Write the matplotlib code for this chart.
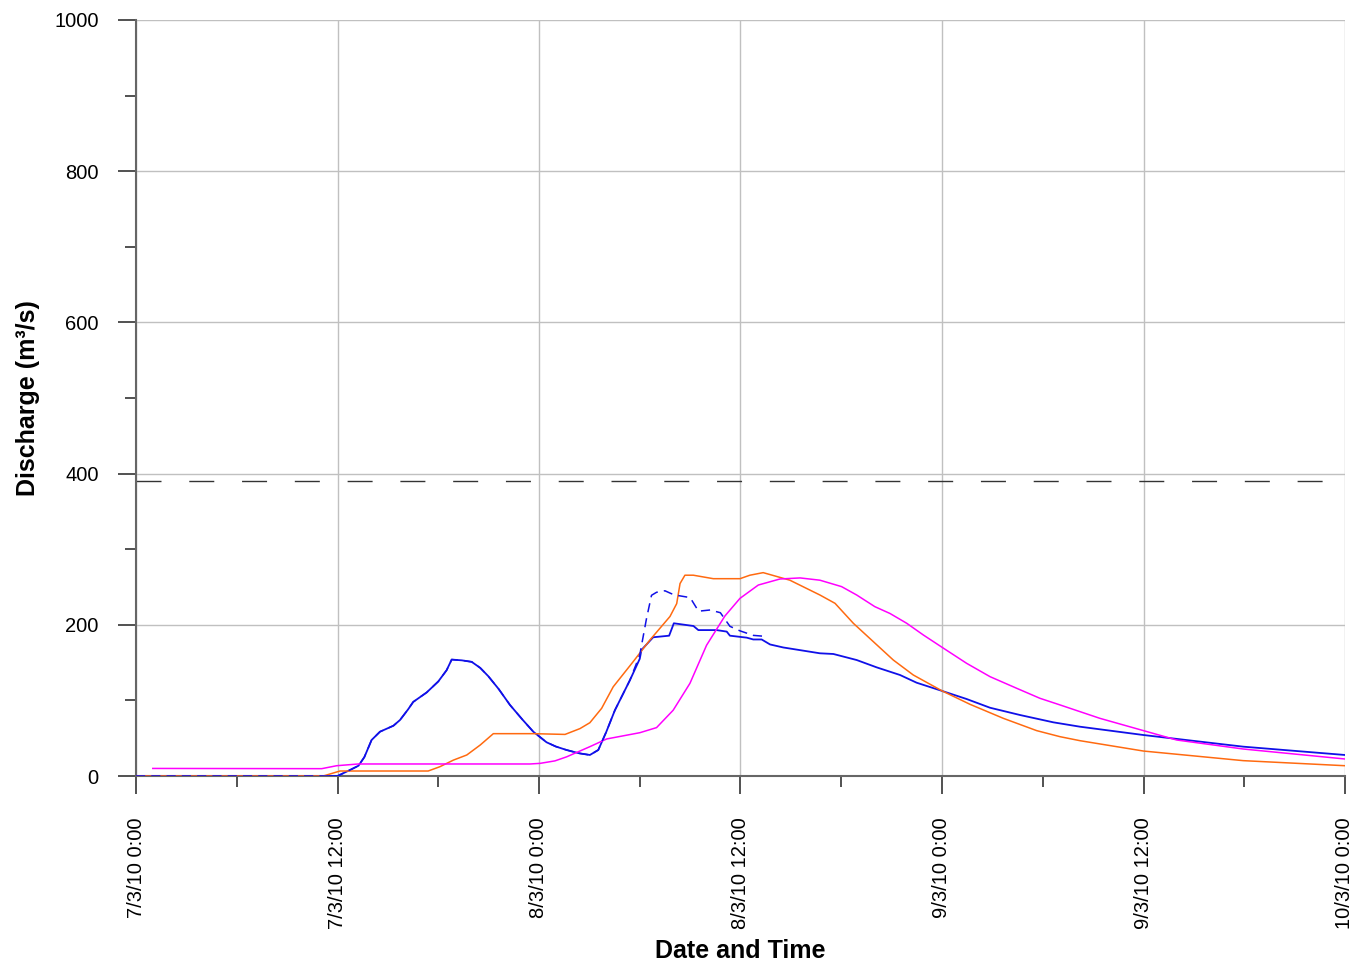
import matplotlib
matplotlib.use("Agg")
import matplotlib.pyplot as plt
import numpy as np

plt.rcParams['font.family'] = ['Liberation Sans', 'DejaVu Sans']

# ---- data (hours since 7/3/10 0:00) ----
blue_t = [0, 12.0, 12.75, 13.25, 13.6, 14.03, 14.53, 15.33, 15.72, 16.2, 16.51, 17.31, 18.0, 18.5,
          18.8, 19.4, 19.99, 20.5, 20.98, 21.6, 22.27, 23.0, 23.66, 24.45, 25.0, 25.64, 26.4,
          27.03, 27.53, 28.0, 28.52, 29.42, 30.0, 30.1, 30.8, 31.75, 32.03, 33.2, 33.49, 34.58,
          35.18, 35.37, 36.37, 36.76, 37.26, 37.76, 38.55, 40.73, 41.53, 42.92, 44.11, 45.5,
          46.49, 48.02, 49.47, 50.86, 52.64, 54.63, 56.22, 60.0, 65.94, 72]
blue_q = [0, 0, 8, 13.6, 25, 47.6, 58.6, 66.5, 74, 88, 98, 110.5, 125, 140,
          154, 153, 151, 143, 132, 115, 94, 75, 58.6, 44.6, 39, 34.4, 30,
          27.8, 34.4, 58, 87, 127, 155, 166.7, 183.5, 185.6, 202, 198.4, 193, 193,
          191, 185.6, 183, 180.6, 180.6, 174, 170, 162.3, 161.4, 153.4, 143.7, 133.6,
          123.4, 112.4, 101.8, 90.3, 80.7, 71, 65.2, 54.2, 38.8, 27.8]

dash_t = [0, 12.0, 12.75, 13.25, 13.6, 14.03, 14.53, 15.33, 15.72, 16.2, 16.51, 17.31, 18.0, 18.5,
          18.8, 19.4, 19.99, 20.5, 20.98, 21.6, 22.27, 23.0, 23.66, 24.45, 25.0, 25.64, 26.4,
          27.03, 27.53, 28.0, 28.52, 29.42, 30.0, 30.4, 30.7, 31.0, 31.5, 31.9, 32.2, 33.0,
          33.5, 34.19, 34.8, 35.37, 35.97, 36.76, 37.32]
dash_q = [0, 0, 8, 13.6, 25, 47.6, 58.6, 66.5, 74, 88, 98, 110.5, 125, 140,
          154, 153, 151, 143, 132, 115, 94, 75, 58.6, 44.6, 39, 34.4, 30,
          27.8, 34.4, 58, 87, 127, 160, 208, 239, 243, 245, 241, 239, 236,
          218, 219.6, 216, 198, 192, 186, 185]

orange_t = [0, 11.15, 12.15, 17.4, 18.1, 18.9, 19.7, 20.5, 21.28, 23.66, 25.55, 26.44, 27.03,
            27.73, 28.42, 29.6, 30.61, 31.8, 32.2, 32.4, 32.69, 33.19, 34.38, 35.97, 36.56,
            37.35, 38.94, 40.73, 41.63, 42.72, 43.91, 45.1, 46.29, 48.02, 49.67, 51.65, 53.64,
            55.03, 56.22, 60.0, 65.94, 72]
orange_q = [0, 0, 6.6, 6.6, 12.3, 21, 27.8, 41, 56, 56, 55, 62.7, 70.5,
            89.5, 118, 151, 180, 211, 228, 254.6, 265.6, 265.6, 261, 261, 265.6,
            269, 259, 239.4, 228.4, 202, 177.7, 153.4, 133.6, 112.4, 94.8, 76.3, 60,
            52, 46.7, 33, 20.3, 13.6]

magenta_t = [1.0, 11.06, 11.95, 13.24, 23.47, 24.06, 24.95, 25.64, 27.03, 28.03, 30.01, 31.0,
             31.99, 32.99, 33.98, 35.07, 35.97, 37.06, 38.35, 39.55, 40.73, 42.02, 42.92,
             44.0, 44.9, 45.9, 46.89, 48.02, 49.47, 50.86, 52.45, 53.83, 55.03, 57.4, 60.0,
             61.98, 65.94, 72]
magenta_q = [10, 9.7, 13.6, 15.9, 15.9, 16.7, 20, 25.3, 38.8, 49, 57.3, 64,
             87, 122.6, 173, 211.6, 235, 252.6, 260.6, 262, 259, 250.5, 239.4,
             224, 215, 202, 186.5, 170, 149, 131.4, 116, 102.8, 94, 76.3, 60,
             47.6, 35.7, 22.5]

threshold = 390

xtick_pos = [0, 12, 24, 36, 48, 60, 72]
xtick_labels = ['7/3/10 0:00', '7/3/10 12:00', '8/3/10 0:00', '8/3/10 12:00',
                '9/3/10 0:00', '9/3/10 12:00', '10/3/10 0:00']
ytick_pos = [0, 200, 400, 600, 800, 1000]

# ---- figure ----
W, H = 1350, 967
fig = plt.figure(figsize=(W / 100, H / 100), dpi=100)
ax = fig.add_axes([136 / W, 1 - 776 / H, 1209 / W, 756 / H])

ax.set_xlim(0, 72)
ax.set_ylim(0, 1000)

ax.plot(blue_t, blue_q, color='#1010e8', lw=1.3, zorder=3)
ax.plot(orange_t, orange_q, color='#ff6a10', lw=1.1, zorder=4)
ax.plot(magenta_t, magenta_q, color='#ff00ff', lw=1.1, zorder=5)
ax.plot(dash_t, dash_q, color='#1010e8', lw=1.1, dashes=(6, 4), zorder=6)
ax.axhline(threshold, color='#333333', lw=1.0, dashes=(18, 20), zorder=2)

ax.set_xticks(xtick_pos)
ax.set_xticklabels(xtick_labels, rotation=90, va='top', ha='center')
ax.set_xticks(np.arange(0, 73, 6), minor=True)
ax.set_yticks(ytick_pos)
ax.set_yticks(np.arange(0, 1001, 100), minor=True)

ax.grid(True, which='major', color='#c0c0c0', lw=1.0, zorder=1)
ax.set_axisbelow(True)

for s in ['top', 'right']:
    ax.spines[s].set_visible(False)
for s in ['left', 'bottom']:
    ax.spines[s].set_color('#666666')
    ax.spines[s].set_linewidth(1.5)

ax.tick_params(axis='both', which='major', direction='out', length=13, width=1.2,
               color='#333333', labelsize=14.5, labelcolor='black')
ax.tick_params(axis='both', which='minor', direction='out', length=8, width=1.2,
               color='#333333')
ax.tick_params(axis='x', which='major', pad=17)
ax.tick_params(axis='y', which='major', pad=14)

fig.text(740 / W, 1 - 951 / H, 'Date and Time', ha='center', va='center',
         fontsize=18, fontweight='bold')
fig.text(28 / W, 1 - 398 / H, 'Discharge (m³/s)', ha='center', va='center',
         rotation=90, fontsize=18, fontweight='bold')

fig.savefig('out.png', dpi=100)
